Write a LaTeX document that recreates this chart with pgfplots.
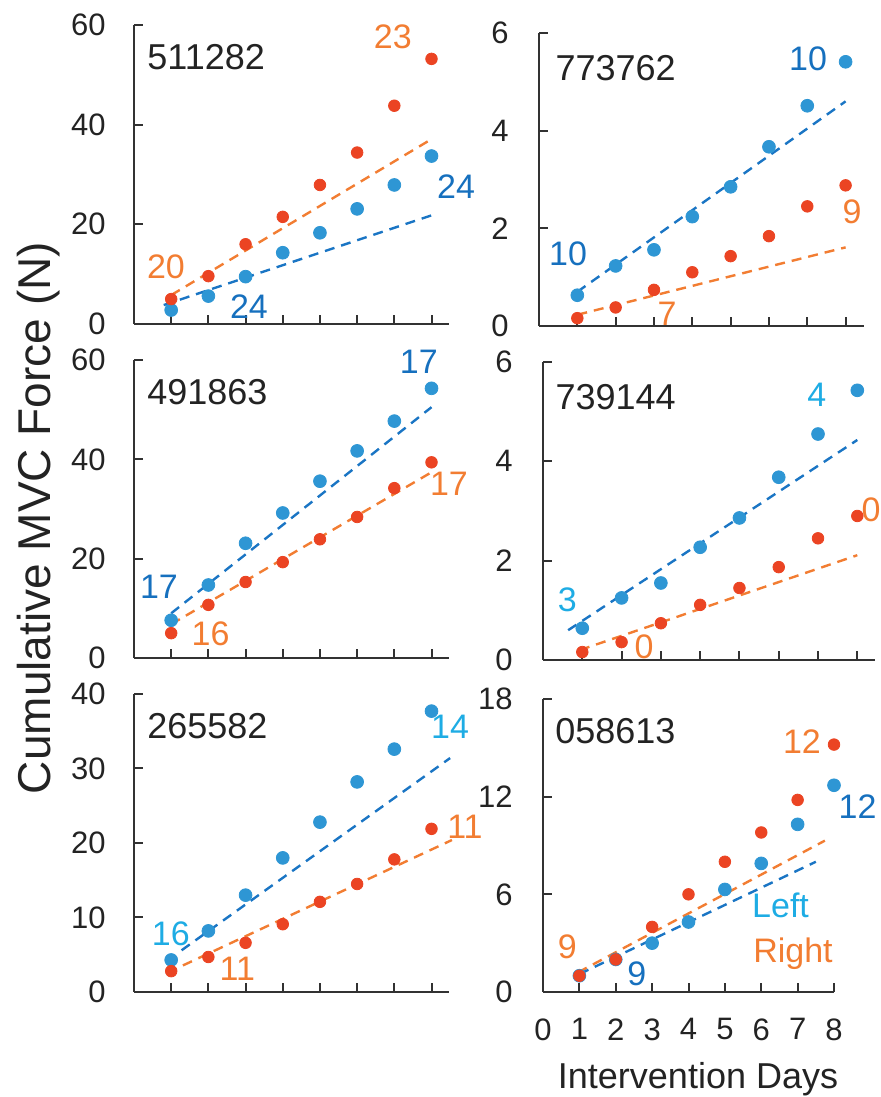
\documentclass[border=0pt]{standalone}
\usepackage{fontspec}
\setmainfont{Liberation Sans}
\usepackage{pgfplots}
\pgfplotsset{compat=1.18}

\definecolor{mblue}{RGB}{46,150,212}
\definecolor{mred}{RGB}{235,68,35}
\definecolor{orng}{RGB}{242,125,50}
\definecolor{dblue}{RGB}{22,112,190}
\definecolor{dashblue}{RGB}{26,117,196}
\definecolor{cyanT}{RGB}{30,172,228}
\definecolor{axgray}{RGB}{50,50,50}
\definecolor{txtgray}{RGB}{35,35,35}

\pgfplotsset{
  panel/.style={
    scale only axis, anchor=south west, clip=false,
    axis x line=bottom, axis y line=left,
    axis line style={-, draw=axgray, line width=1pt},
    tick align=inside, major tick length=4.5pt,
    every tick/.style={draw=axgray, line width=1pt},
    xtick={1,...,8}, xticklabels={},
    xmin=0, ymin=0,
    /pgf/number format/assume math mode=true,
    tick label style={font=\fontsize{15.5}{18}\selectfont, text=txtgray},
    yticklabel style={anchor=east, inner sep=0pt, xshift=-14pt},
  },
  blue pts/.style={only marks, mark=*, mark size=3.2pt, color=mblue},
  red pts/.style={only marks, mark=*, mark size=2.9pt, color=mred},
  blue trend/.style={no marks, color=dashblue, dash pattern=on 5pt off 3.5pt, line width=1.2pt},
  red trend/.style={no marks, color=orng, dash pattern=on 5pt off 3.5pt, line width=1.2pt},
}
\tikzset{
  ann/.style={inner sep=0pt, font=\fontsize{17}{20}\selectfont},
  pid/.style={inner sep=0pt, anchor=west, font=\fontsize{18}{21}\selectfont, text=txtgray},
}

\begin{document}
\begin{tikzpicture}
\path[use as bounding box] (0,0) rectangle (440.5pt,548.5pt);

% ---------- Panel 1: 511282 ----------
\begin{axis}[panel, at={(67pt,386.5pt)}, width=157.5pt, height=149.5pt,
  xmax=8.47, ymax=60, ytick={0,20,40,60}]
\addplot[blue pts] coordinates {(1,2.8)(2,5.6)(3,9.5)(4,14.3)(5,18.3)(6,23.1)(7,27.9)(8,33.7)};
\addplot[red pts] coordinates {(1,5.0)(2,9.6)(3,16.0)(4,21.5)(5,27.9)(6,34.4)(7,43.8)(8,53.2)};
\addplot[red trend] coordinates {(1,5.8)(8,37.1)};
\addplot[blue trend] coordinates {(0.8,3.8)(8,21.8)};
\node[pid] at (axis cs:0.35,53.6) {511282};
\node[ann, text=orng] at (axis cs:0.86,11.4) {20};
\node[ann, text=dblue] at (axis cs:3.09,3.4) {24};
\node[ann, text=orng] at (axis cs:6.96,57.6) {23};
\node[ann, text=dblue] at (axis cs:8.66,27.5) {24};
\end{axis}

% ---------- Panel 2: 773762 ----------
\begin{axis}[panel, at={(269.5pt,385.5pt)}, width=162.5pt, height=146.5pt,
  xmax=8.48, ymax=6, ytick={0,2,4,6}, yticklabel style={xshift=-1pt}]
\addplot[blue pts] coordinates {(1,0.63)(2,1.23)(3,1.56)(4,2.24)(5,2.85)(6,3.67)(7,4.51)(8,5.41)};
\addplot[red pts] coordinates {(1,0.16)(2,0.38)(3,0.74)(4,1.10)(5,1.43)(6,1.84)(7,2.45)(8,2.88)};
\addplot[blue trend] coordinates {(1,0.70)(8,4.60)};
\addplot[red trend] coordinates {(1,0.23)(8,1.61)};
\node[pid] at (axis cs:0.42,5.29) {773762};
\node[ann, text=dblue] at (axis cs:0.76,1.48) {10};
\node[ann, text=orng] at (axis cs:3.34,0.25) {7};
\node[ann, text=dblue] at (axis cs:7.02,5.47) {10};
\node[ann, text=orng] at (axis cs:8.17,2.33) {9};
\end{axis}

% ---------- Panel 3: 491863 ----------
\begin{axis}[panel, at={(67pt,219.5pt)}, width=157.5pt, height=149pt,
  xmax=8.47, ymax=60, ytick={0,20,40,60}]
\addplot[blue pts] coordinates {(1,7.6)(2,14.7)(3,23.1)(4,29.2)(5,35.6)(6,41.7)(7,47.7)(8,54.3)};
\addplot[red pts] coordinates {(1,5.0)(2,10.7)(3,15.3)(4,19.3)(5,23.9)(6,28.4)(7,34.2)(8,39.4)};
\addplot[blue trend] coordinates {(1,9.0)(8,50.5)};
\addplot[red trend] coordinates {(1,6.8)(8,37.4)};
\node[pid] at (axis cs:0.35,53.5) {491863};
\node[ann, text=dblue] at (axis cs:0.67,14.3) {17};
\node[ann, text=orng] at (axis cs:2.06,4.8) {16};
\node[ann, text=dblue] at (axis cs:7.66,59.7) {17};
\node[ann, text=orng] at (axis cs:8.47,35.0) {17};
\end{axis}

% ---------- Panel 4: 739144 ----------
\begin{axis}[panel, at={(271.5pt,218.5pt)}, width=166pt, height=149pt,
  xmax=8.45, ymax=6, ytick={0,2,4,6}, yticklabel style={xshift=-1pt}]
\addplot[blue pts] coordinates {(1,0.64)(2,1.25)(3,1.55)(4,2.27)(5,2.86)(6,3.68)(7,4.55)(8,5.43)};
\addplot[red pts] coordinates {(1,0.16)(2,0.36)(3,0.74)(4,1.11)(5,1.45)(6,1.87)(7,2.45)(8,2.90)};
\addplot[blue trend] coordinates {(0.64,0.60)(8,4.43)};
\addplot[red trend] coordinates {(0.94,0.20)(8,2.11)};
\node[pid] at (axis cs:0.31,5.29) {739144};
\node[ann, text=cyanT] at (axis cs:0.62,1.21) {3};
\node[ann, text=orng] at (axis cs:2.57,0.26) {0};
\node[ann, text=cyanT] at (axis cs:6.97,5.33) {4};
\node[ann, text=orng] at (axis cs:8.35,3.02) {0};
\end{axis}

% ---------- Panel 5: 265582 ----------
\begin{axis}[panel, at={(67pt,52.5pt)}, width=157.5pt, height=149pt,
  xmax=8.47, ymax=40, ytick={0,10,20,30,40}]
\addplot[blue pts] coordinates {(1,4.3)(2,8.2)(3,13.0)(4,18.0)(5,22.8)(6,28.2)(7,32.6)(8,37.7)};
\addplot[red pts] coordinates {(1,2.8)(2,4.7)(3,6.6)(4,9.1)(5,12.1)(6,14.5)(7,17.8)(8,21.9)};
\addplot[blue trend] coordinates {(1.28,5.6)(8.5,31.4)};
\addplot[red trend] coordinates {(0.9,2.6)(8.55,20.4)};
\node[pid] at (axis cs:0.35,35.7) {265582};
\node[ann, text=cyanT] at (axis cs:0.99,7.8) {16};
\node[ann, text=orng] at (axis cs:2.78,3.1) {11};
\node[ann, text=cyanT] at (axis cs:8.5,35.6) {14};
\node[ann, text=orng] at (axis cs:8.9,22.2) {11};
\end{axis}

% ---------- Panel 6: 058613 ----------
\begin{axis}[panel, at={(271.5pt,52.5pt)}, width=145.5pt, height=146.5pt,
  xmax=8, ymax=18, ytick={0,6,12,18}, yticklabel style={xshift=-1pt},
  xtick={0,...,8}, xticklabels={0,1,2,3,4,5,6,7,8},
  xticklabel style={anchor=north, inner sep=0pt, yshift=-13pt}]
\addplot[blue pts] coordinates {(1,1.0)(2,2.0)(3,3.0)(4,4.3)(5,6.3)(6,7.9)(7,10.3)(8,12.7)};
\addplot[red pts] coordinates {(1,1.0)(2,2.0)(3,4.0)(4,6.0)(5,8.0)(6,9.8)(7,11.8)(8,15.2)};
\addplot[red trend] coordinates {(0.96,1.2)(7.75,9.3)};
\addplot[blue trend] coordinates {(1,1.1)(7.5,8.0)};
\node[pid] at (axis cs:0.33,16.0) {058613};
\node[ann, text=orng] at (axis cs:0.67,2.76) {9};
\node[ann, text=dblue] at (axis cs:2.58,1.1) {9};
\node[ann, text=orng] at (axis cs:7.12,15.4) {12};
\node[ann, text=dblue] at (axis cs:8.65,11.4) {12};
\node[ann, text=cyanT, anchor=base west] at (axis cs:5.74,4.55) {Left};
\node[ann, text=orng, anchor=base west] at (axis cs:5.77,1.84) {Right};
\end{axis}

% axis titles
\node[anchor=base, inner sep=0pt, font=\fontsize{18}{21}\selectfont, text=txtgray] at (349pt,4.5pt) {Intervention Days};
\node[anchor=base, rotate=90, inner sep=0pt, font=\fontsize{23}{26}\selectfont, text=txtgray] at (25pt,289.5pt) {Cumulative MVC Force (N)};
\end{tikzpicture}
\end{document}
